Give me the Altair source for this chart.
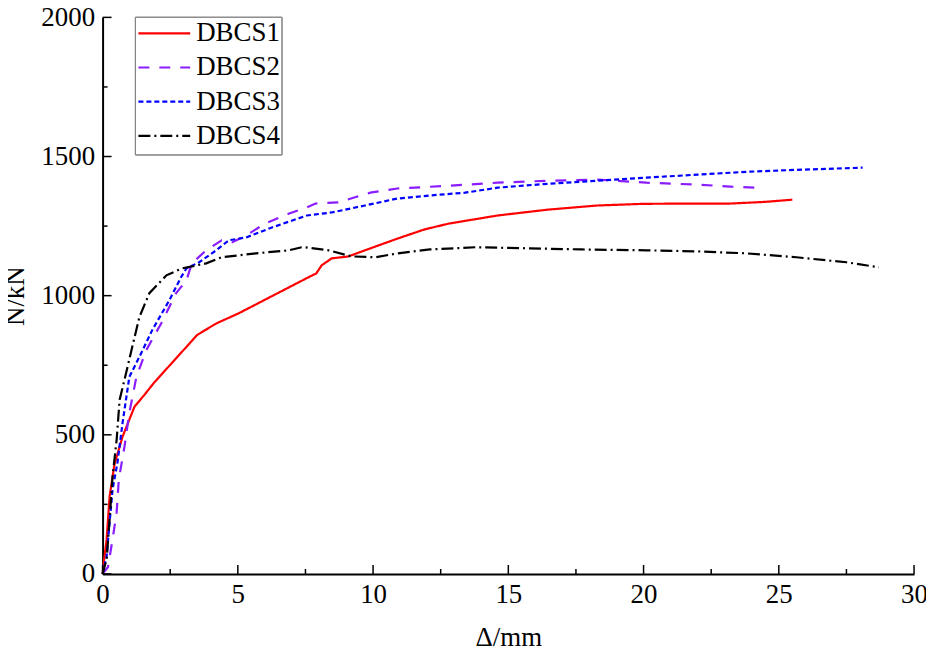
import altair as alt
import pandas as pd

series_names = ["DBCS1", "DBCS2", "DBCS3", "DBCS4"]
series_colors = ["#FF0000", "#8A1CFF", "#0000FF", "#000000"]
series_dash = [[1, 0], [11, 10], [5, 3], [12, 4, 2, 4]]

x1 = [0, 0.05, 0.15, 0.26, 0.44, 0.74, 1.18, 1.55, 1.9, 3.5, 4.2, 5.04, 7.55, 7.9, 8.1, 8.47, 9.09, 9.7, 10.9, 11.9, 12.8, 14.6, 16.45, 18.3, 20.0, 22.0, 23.2, 24.5, 25.5]
n1 = [0, 46, 125, 279, 394, 494, 601, 644, 687, 859, 900, 937, 1063, 1080, 1109, 1134, 1141, 1163, 1205, 1238, 1259, 1288, 1309, 1324, 1330, 1331, 1331, 1337, 1345]

x2 = [0, 0.2, 0.37, 0.52, 0.6, 0.81, 0.99, 1.25, 1.62, 2.17, 2.72, 3.1, 3.3, 3.83, 4.4, 4.8, 5.3, 6.0, 6.9, 7.55, 7.87, 8.7, 9.9, 10.9, 12.8, 14.6, 16.45, 18.3, 20.1, 22.0, 23.2, 24.1]
n2 = [0, 25, 125, 222, 340, 458, 580, 708, 805, 901, 1009, 1055, 1116, 1163, 1199, 1192, 1216, 1259, 1295, 1317, 1331, 1335, 1370, 1385, 1395, 1406, 1413, 1417, 1406, 1399, 1392, 1388]

x3 = [0, 0.15, 0.26, 0.37, 0.55, 0.74, 0.99, 1.36, 1.84, 2.47, 2.9, 3.1, 3.57, 4.2, 4.67, 5.3, 6.26, 7.55, 8.47, 9.7, 10.9, 12.1, 13.4, 14.6, 16.45, 18.3, 20.1, 22.0, 23.8, 25.65, 28.1]
n3 = [0, 64, 186, 304, 400, 544, 708, 780, 877, 984, 1066, 1098, 1120, 1163, 1199, 1209, 1245, 1288, 1299, 1324, 1349, 1360, 1370, 1388, 1402, 1413, 1424, 1435, 1445, 1452, 1460]

x4 = [0, 0.15, 0.26, 0.37, 0.52, 0.63, 0.81, 1.07, 1.36, 1.73, 2.36, 2.94, 3.83, 4.4, 5.67, 6.88, 7.4, 8.35, 9.2, 10.1, 10.9, 12.1, 13.8, 15.8, 17.7, 20.1, 22.0, 23.8, 25.65, 27.5, 28.7]
n4 = [0, 54, 197, 351, 483, 626, 698, 805, 923, 1009, 1073, 1098, 1116, 1138, 1152, 1163, 1175, 1163, 1141, 1138, 1152, 1166, 1174, 1170, 1166, 1163, 1159, 1152, 1138, 1120, 1102]

x_major = [0, 5, 10, 15, 20, 25, 30]
x_minor = [2.5, 7.5, 12.5, 17.5, 22.5, 27.5]
y_major = [0, 500, 1000, 1500, 2000]
y_minor = [250, 750, 1250, 1750]

rows = []
for name, xs, ns in zip(series_names, [x1, x2, x3, x4], [n1, n2, n3, n4]):
    for i, (a, b) in enumerate(zip(xs, ns)):
        rows.append({"series": name, "d": a, "N": b, "i": i})
df = pd.DataFrame(rows)
legend_df = pd.DataFrame({"series": series_names})

FONT = "Liberation Serif, Times New Roman, serif"
FS = 27
W, H = 815, 559

xscale = alt.Scale(domain=[0, 30], nice=False, zero=False)
yscale = alt.Scale(domain=[0, 2000], nice=False, zero=False)
cscale = alt.Scale(domain=series_names, range=series_colors)
dscale = alt.Scale(domain=series_names, range=series_dash)

lines = alt.Chart(df).mark_line(strokeWidth=2.2).encode(
    x=alt.X("d:Q", scale=xscale, axis=alt.Axis(
        values=x_major, format="d", ticks=False, tickSize=0, grid=False,
        labelFont=FONT, labelFontSize=FS, labelColor="black", labelPadding=8,
        labelFlush=False, domainColor="black", domainWidth=2,
        title="Δ/mm", titleFont=FONT, titleFontSize=FS, titleFontWeight="normal",
        titleColor="black", titlePadding=17)),
    y=alt.Y("N:Q", scale=yscale, axis=alt.Axis(
        values=y_major, format="d", ticks=False, tickSize=0, grid=False,
        labelFont=FONT, labelFontSize=FS, labelColor="black", labelPadding=8,
        labelFlush=False, domainColor="black", domainWidth=2,
        title="N/kN", titleFont=FONT, titleFontSize=FS, titleFontWeight="normal",
        titleColor="black", titlePadding=11)),
    color=alt.Color("series:N", scale=cscale, legend=None),
    strokeDash=alt.StrokeDash("series:N", scale=dscale, legend=None),
    order="i:Q",
)

def xticks(vals, length):
    return alt.Chart(pd.DataFrame({"v": vals})).mark_rule(color="black", strokeWidth=1.5).encode(
        x=alt.X("v:Q", scale=xscale), y=alt.value(H), y2=alt.value(H - length))

def yticks(vals, length):
    return alt.Chart(pd.DataFrame({"v": vals})).mark_rule(color="black", strokeWidth=1.5).encode(
        y=alt.Y("v:Q", scale=yscale), x=alt.value(0), x2=alt.value(length))

main = alt.layer(lines, xticks(x_major, 9), xticks(x_minor, 5), yticks(y_major, 9), yticks(y_minor, 5))

# legend drawn as marks from the series list
lscale = alt.Scale(type="point", domain=series_names, range=[16, 119], padding=0)
lbox = alt.Chart(legend_df).mark_rect(fill="white", stroke="#808080", strokeWidth=1).encode(
    x=alt.value(33), x2=alt.value(180), y=alt.value(0), y2=alt.value(138))
lrules = alt.Chart(legend_df).mark_rule(strokeWidth=2.2).encode(
    x=alt.value(36), x2=alt.value(88),
    y=alt.Y("series:N", scale=lscale, axis=None),
    color=alt.Color("series:N", scale=cscale, legend=None),
    strokeDash=alt.StrokeDash("series:N", scale=dscale, legend=None),
)
ltext = alt.Chart(legend_df).mark_text(align="left", baseline="middle", font=FONT, fontSize=FS, color="black").encode(
    x=alt.value(94),
    y=alt.Y("series:N", scale=lscale, axis=None),
    text="series:N",
)
leg = alt.layer(lbox, lrules, ltext)

chart = alt.layer(main, leg).resolve_scale(y="independent").properties(
    width=W, height=H,
    autosize=alt.AutoSizeParams(type="none"),
    padding={"left": 95, "top": 8, "right": 12, "bottom": 82},
).configure_view(stroke=None)

chart.save("out.html", embed_options={"renderer": "svg", "actions": False})
